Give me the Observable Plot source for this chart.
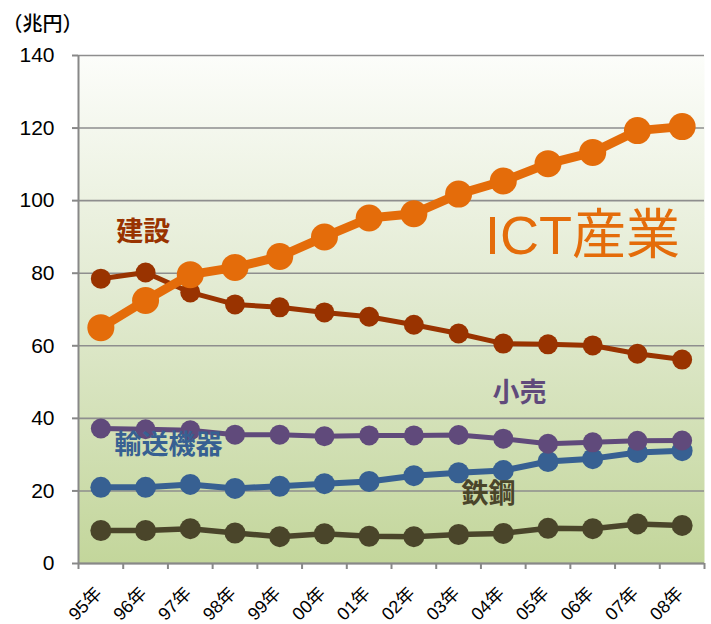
<!DOCTYPE html>
<html><head><meta charset="utf-8">
<script src="https://cdn.jsdelivr.net/npm/d3@7"></script>
<script src="https://cdn.jsdelivr.net/npm/@observablehq/plot@0.6"></script>
<style>
body{margin:0;background:#fff;}
#chart svg{display:block;}
</style>
</head><body><div id="chart"></div>
<script>
// Data (兆円)
const years = ["95年","96年","97年","98年","99年","00年","01年","02年","03年","04年","05年","06年","07年","08年"];
const ict          = [65.0, 72.5, 79.6, 81.6, 84.6, 90.0, 95.2, 96.4, 101.8, 105.4, 110.2, 113.3, 119.3, 120.4];
const construction = [78.5, 80.2, 74.7, 71.4, 70.6, 69.2, 68.0, 65.8, 63.4, 60.6, 60.4, 60.1, 57.8, 56.2];
const retail       = [37.2, 37.0, 36.7, 35.5, 35.5, 35.1, 35.3, 35.3, 35.4, 34.4, 33.0, 33.4, 33.8, 33.9];
const transport    = [21.0, 21.0, 21.8, 20.7, 21.3, 22.0, 22.6, 24.2, 25.0, 25.6, 28.1, 28.9, 30.6, 31.1];
const steel        = [ 9.1,  9.1,  9.6,  8.4,  7.4,  8.2,  7.5,  7.4,  8.0,  8.3,  9.7,  9.6, 10.9, 10.5];
const yTicks = [0, 20, 40, 60, 80, 100, 120, 140];
const seriesNames = ["鉄鋼", "輸送機器", "小売", "建設", "ICT産業"];
const unitLabel = "（兆円）";
// label anchor positions (in data units: year index, value)
const labelIdx = [8.67, 1.51, 9.36, 0.95, 10.77];
const labelVal = [19.0, 32.5, 46.8, 91.2, 90.1];

const seriesValues = [steel, transport, retail, construction, ict];
const colors = {"鉄鋼":"#4a452a","輸送機器":"#376092","小売":"#604a7b","建設":"#993300","ICT産業":"#e46c0a"};
const style = {
  "鉄鋼":{sw:5.5, r:10.5},
  "輸送機器":{sw:6, r:10.5},
  "小売":{sw:5, r:10},
  "建設":{sw:5, r:10},
  "ICT産業":{sw:9, r:13.5}
};

const rows = [];
seriesNames.forEach((s, k) => seriesValues[k].forEach((v, i) => rows.push({series:s, i, v})));
const labels = seriesNames.map((s, k) => ({series:s, i:labelIdx[k], v:labelVal[k]}));
const yLabelRows = yTicks.map(v => ({x:-0.5, v, t:String(v)}));
const xLabelRows = years.map((t, i) => ({i, v:0, t}));
const bounds = d3.range(years.length + 1).map(i => i - 0.5);

const bgDefs = () => {
  const g = d3.create("svg:g");
  const lg = g.append("defs").append("linearGradient")
    .attr("id","bg").attr("x1",0).attr("y1",0).attr("x2",0).attr("y2",1);
  lg.append("stop").attr("offset","0%").attr("stop-color","#fcfdfa");
  lg.append("stop").attr("offset","45%").attr("stop-color","#e3ebd3");
  lg.append("stop").attr("offset","100%").attr("stop-color","#c3d69b");
  return g.node();
};

const marks = [
  bgDefs,
  Plot.frame({fill:"url(#bg)", stroke:null}),
  Plot.gridY(yTicks, {stroke:"#8e8e8e", strokeOpacity:1, strokeWidth:1.6}),
  Plot.axisY(yTicks, {tickSize:6, tickFormat:() => "", stroke:"#888", strokeWidth:2, label:null}),
  Plot.ruleX([-0.5], {stroke:"#888", strokeWidth:2}),
  Plot.ruleY([0], {stroke:"#888", strokeWidth:2}),
  Plot.axisX(bounds, {tickSize:6, tickFormat:() => "", stroke:"#888", strokeWidth:2, label:null}),
  // tick labels as text marks
  Plot.text(yLabelRows, {x:"x", y:"v", text:"t", dx:-24, textAnchor:"end", lineAnchor:"middle",
    fontSize:21, fill:"#000", fontFamily:"'Liberation Sans', Arial, sans-serif"}),
  Plot.text(xLabelRows, {x:"i", y:"v", text:"t", rotate:-45, dx:-2, dy:27, textAnchor:"end", lineAnchor:"middle",
    fontSize:18, fill:"#000", fontFamily:"'Liberation Sans','Noto Sans CJK JP',sans-serif"})
];
seriesNames.forEach(s => {
  const d = rows.filter(r => r.series === s);
  marks.push(Plot.line(d, {x:"i", y:"v", stroke:colors[s], strokeWidth:style[s].sw, strokeLinejoin:"round"}));
  marks.push(Plot.dot(d, {x:"i", y:"v", fill:colors[s], r:style[s].r, stroke:null}));
});
labels.forEach(l => {
  const big = l.series === "ICT産業";
  marks.push(Plot.text([l], {x:"i", y:"v", text:"series", fill:colors[l.series],
    fontSize: big ? 54 : 27, fontWeight: big ? "normal" : "bold",
    fontFamily: big ? "'Liberation Sans','Noto Sans CJK JP',sans-serif" : "'Noto Sans CJK JP',sans-serif",
    textAnchor:"middle", lineAnchor:"middle"}));
});
marks.push(Plot.text([unitLabel], {frameAnchor:"top-left", dx:-76, dy:-30.5, fontSize:20, fontWeight:500, fill:"#000", textAnchor:"start", lineAnchor:"middle", fontFamily:"'Noto Sans CJK JP',sans-serif"}));

const chart = Plot.plot({
  width:711, height:624,
  marginLeft:78, marginRight:7, marginTop:55, marginBottom:61,
  style:{fontFamily:"'Liberation Sans', Arial, sans-serif", background:"#fff", overflow:"visible"},
  x:{type:"linear", domain:[-0.5, years.length - 0.5], axis:null},
  y:{domain:[0,140], axis:null},
  marks
});
document.getElementById("chart").appendChild(chart);
</script>
</body></html>
